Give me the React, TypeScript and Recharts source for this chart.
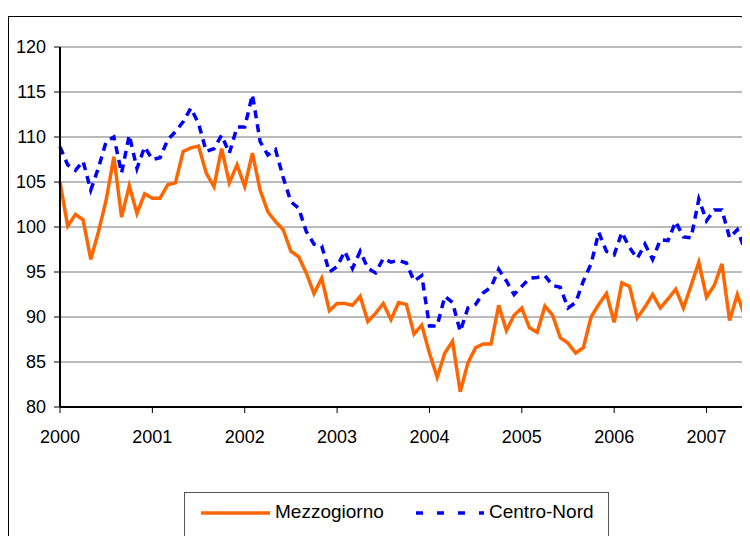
import {
	LineChart,
	Line,
	XAxis,
	YAxis,
	CartesianGrid,
	ReferenceLine,
} from 'recharts';

const years = ['2000', '2001', '2002', '2003', '2004', '2005', '2006', '2007'];
const monthNames = ['01', '02', '03', '04', '05', '06', '07', '08', '09', '10', '11', '12'];

// monthly index values, Jan 2000 - Jun 2007
const mezzogiorno = [
	105.0, 100.1, 101.4, 100.8, 96.4, 99.5, 103.0, 107.8, 101.1, 104.6, 101.5, 103.7,
	103.2, 103.2, 104.7, 104.9, 108.4, 108.8, 109.0, 106.0, 104.5, 108.7, 104.9, 106.9,
	104.5, 108.2, 104.1, 101.7, 100.6, 99.7, 97.3, 96.7, 94.9, 92.6, 94.3, 90.7,
	91.5, 91.5, 91.3, 92.3, 89.5, 90.4, 91.5, 89.7, 91.6, 91.4, 88.1, 89.1,
	86.0, 83.3, 86.0, 87.3, 81.7, 84.9, 86.6, 87.0, 87.0, 91.3, 88.5, 90.2,
	91.0, 88.8, 88.3, 91.2, 90.2, 87.7, 87.1, 86.0, 86.6, 90.0, 91.4, 92.6,
	89.4, 93.8, 93.4, 89.9, 91.1, 92.5, 91.0, 92.0, 93.1, 91.0, 93.5, 96.1,
	92.2, 93.5, 95.9, 89.6, 92.5, 90.0,
];

const centroNord = [
	108.9, 106.9, 106.3, 107.3, 104.1, 106.6, 109.5, 110.0, 106.0, 110.2, 106.5, 108.9,
	107.5, 107.7, 109.7, 110.6, 111.7, 113.2, 111.5, 108.4, 108.7, 110.2, 108.2, 111.1,
	111.1, 114.7, 109.5, 108.0, 108.6, 105.5, 102.8, 102.1, 99.5, 98.1, 97.9, 95.0,
	95.6, 97.3, 95.4, 97.3, 95.4, 94.9, 96.5, 96.1, 96.3, 96.0, 94.0, 94.6,
	89.0, 89.0, 92.3, 91.6, 88.4, 91.0, 91.4, 92.7, 93.3, 95.3, 94.0, 92.5,
	93.4, 94.3, 94.4, 94.6, 93.5, 93.3, 91.0, 91.6, 94.0, 95.9, 99.4, 97.3,
	96.9, 99.4, 97.7, 96.5, 98.1, 96.4, 98.6, 98.5, 100.6, 98.9, 98.8, 103.1,
	100.7, 101.9, 101.9, 98.8, 99.7, 97.4,
];

const yTicks = [80, 85, 90, 95, 100, 105, 110, 115, 120];

const data = mezzogiorno.map((v, i) => ({
	month: years[Math.floor(i / 12)] + '-' + monthNames[i % 12],
	mezzogiorno: v,
	centroNord: centroNord[i],
}));

const font = '"Liberation Sans", Arial, sans-serif';

export default function App() {
	return (
		<div style={{ fontFamily: font }}>
			<style>{'body{overflow:hidden}'}</style>
			<div
				style={{
					position: 'relative',
					marginTop: 8,
					width: 760,
					height: 540,
					border: '1px solid #000',
				}}
			>
				<LineChart
					width={760}
					height={520}
					data={data}
					margin={{ top: 30, right: 24, left: 0, bottom: 100 }}
				>
					<CartesianGrid vertical={false} stroke='#777' />
					<XAxis
						dataKey='month'
						interval={11}
						height={30}
						tickSize={6}
						tickMargin={17}
						tickFormatter={(m: string) => m.slice(0, 4)}
						tick={{ fontSize: 18, fill: '#000', fontFamily: font }}
						axisLine={{ stroke: '#000', strokeWidth: 2 }}
						tickLine={{ stroke: '#000' }}
					/>
					<YAxis
						width={51}
						domain={[80, 120]}
						ticks={yTicks}
						tickSize={6}
						tickMargin={8}
						tick={{ fontSize: 18, fill: '#000', fontFamily: font }}
						axisLine={{ stroke: '#000', strokeWidth: 2 }}
						tickLine={{ stroke: '#000' }}
					/>
					<ReferenceLine x={data[data.length - 1].month} stroke='#777' />
					<Line
						type='linear'
						dataKey='mezzogiorno'
						stroke='#FF6600'
						strokeWidth={3.5}
						dot={false}
						isAnimationActive={false}
					/>
					<Line
						type='linear'
						dataKey='centroNord'
						stroke='#0000FF'
						strokeWidth={3.5}
						strokeDasharray='8 6'
						dot={false}
						isAnimationActive={false}
					/>
				</LineChart>
				<div
					style={{
						position: 'absolute',
						left: 175,
						top: 475,
						width: 423,
						height: 80,
						border: '1px solid #555',
						fontSize: 19,
					}}
				>
					<svg width={423} height={40} style={{ position: 'absolute', left: 0, top: 0 }}>
						<line x1={16} y1={20} x2={85} y2={20} stroke='#FF6600' strokeWidth={3.5} />
						<line
							x1={231}
							y1={20}
							x2={299}
							y2={20}
							stroke='#0000FF'
							strokeWidth={3.5}
							strokeDasharray='7 14'
						/>
					</svg>
					<span style={{ position: 'absolute', left: 90, top: 8 }}>Mezzogiorno</span>
					<span style={{ position: 'absolute', left: 304, top: 8 }}>Centro-Nord</span>
				</div>
			</div>
		</div>
	);
}
